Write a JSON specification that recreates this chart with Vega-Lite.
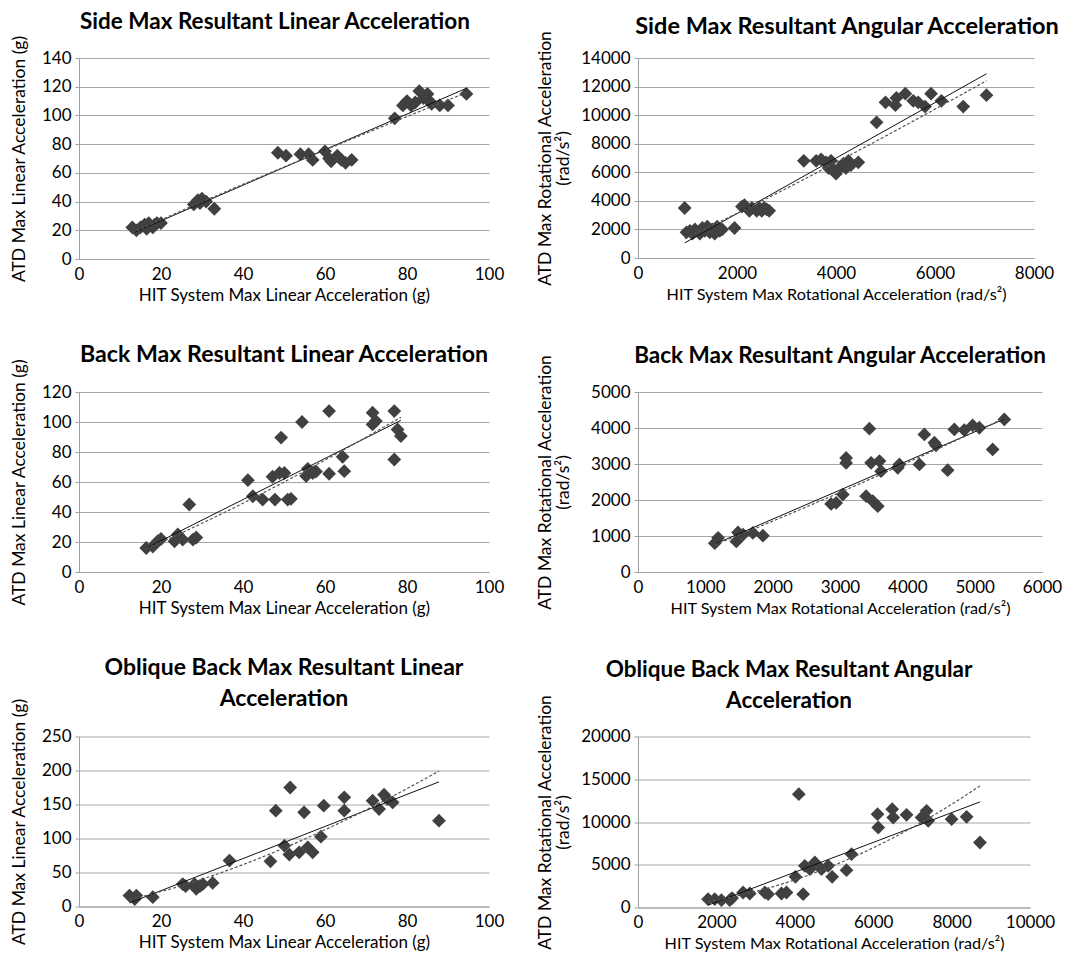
{
  "$schema": "https://vega.github.io/schema/vega-lite/v6.json",
  "padding": {"left": 9, "top": 11, "right": 0, "bottom": 0},
  "config": {
    "font": "Lato",
    "view": {"stroke": null},
    "axis": {"labelFont": "Lato", "labelFontSize": 17, "labelColor": "#000000", "titleFont": "Lato", "titleFontSize": 17, "titleFontWeight": "normal", "titleColor": "#000000", "titleLineHeight": 18, "domainColor": "#a0a0a0", "gridColor": "#a6a6a6", "tickColor": "#a0a0a0"},
    "axisX": {"grid": false, "ticks": false, "labelPadding": 7, "titlePadding": 5, "labelFlush": false},
    "axisY": {"grid": true, "tickSize": 4, "labelPadding": 4, "titleFontSize": 17.5},
    "title": {"font": "Lato", "fontSize": 22.5, "fontWeight": "bold", "color": "#000000", "anchor": "middle", "frame": "group", "lineHeight": 31}
  },
  "datasets": {
    "side_lin": [
      {"hit": 13, "atd": 22}, {"hit": 14, "atd": 20}, {"hit": 15, "atd": 22}, {"hit": 16, "atd": 24}, {"hit": 16.5, "atd": 21},
      {"hit": 17, "atd": 25}, {"hit": 18, "atd": 22}, {"hit": 18.5, "atd": 24}, {"hit": 19, "atd": 25}, {"hit": 20, "atd": 25},
      {"hit": 28, "atd": 38}, {"hit": 29, "atd": 41}, {"hit": 29.5, "atd": 39}, {"hit": 30, "atd": 42}, {"hit": 31, "atd": 40}, {"hit": 33, "atd": 35},
      {"hit": 48.5, "atd": 74}, {"hit": 50.5, "atd": 72}, {"hit": 54, "atd": 73}, {"hit": 56, "atd": 73}, {"hit": 57, "atd": 69}, {"hit": 60, "atd": 75},
      {"hit": 61, "atd": 70}, {"hit": 61.5, "atd": 68}, {"hit": 63, "atd": 72}, {"hit": 64, "atd": 69}, {"hit": 65, "atd": 67}, {"hit": 66.5, "atd": 69},
      {"hit": 77, "atd": 98}, {"hit": 79, "atd": 107}, {"hit": 80, "atd": 110}, {"hit": 81, "atd": 107}, {"hit": 82, "atd": 109}, {"hit": 83, "atd": 117},
      {"hit": 84, "atd": 112}, {"hit": 85, "atd": 115}, {"hit": 85.5, "atd": 110}, {"hit": 86, "atd": 108}, {"hit": 88, "atd": 107}, {"hit": 90, "atd": 107}, {"hit": 94.5, "atd": 115}
    ],
    "side_ang": [
      {"hit": 943, "atd": 3500}, {"hit": 980, "atd": 1800}, {"hit": 1050, "atd": 1900}, {"hit": 1100, "atd": 1700}, {"hit": 1150, "atd": 2000},
      {"hit": 1250, "atd": 1700}, {"hit": 1300, "atd": 2100}, {"hit": 1350, "atd": 1900}, {"hit": 1400, "atd": 2200}, {"hit": 1450, "atd": 1800},
      {"hit": 1500, "atd": 2000}, {"hit": 1550, "atd": 1700}, {"hit": 1600, "atd": 2200}, {"hit": 1650, "atd": 1900}, {"hit": 1700, "atd": 2000}, {"hit": 1950, "atd": 2100},
      {"hit": 2100, "atd": 3600}, {"hit": 2150, "atd": 3700}, {"hit": 2250, "atd": 3300}, {"hit": 2300, "atd": 3500}, {"hit": 2400, "atd": 3300},
      {"hit": 2450, "atd": 3500}, {"hit": 2500, "atd": 3300}, {"hit": 2550, "atd": 3500}, {"hit": 2600, "atd": 3400}, {"hit": 2650, "atd": 3300},
      {"hit": 3350, "atd": 6800}, {"hit": 3600, "atd": 6800}, {"hit": 3700, "atd": 6900}, {"hit": 3800, "atd": 6700}, {"hit": 3850, "atd": 6300},
      {"hit": 3900, "atd": 6800}, {"hit": 3950, "atd": 6200}, {"hit": 4000, "atd": 5900}, {"hit": 4100, "atd": 6400}, {"hit": 4150, "atd": 6600},
      {"hit": 4200, "atd": 6300}, {"hit": 4250, "atd": 6800}, {"hit": 4300, "atd": 6500}, {"hit": 4450, "atd": 6700},
      {"hit": 4820, "atd": 9500}, {"hit": 5000, "atd": 10900}, {"hit": 5200, "atd": 10700}, {"hit": 5220, "atd": 11200}, {"hit": 5400, "atd": 11500},
      {"hit": 5560, "atd": 11000}, {"hit": 5660, "atd": 10900}, {"hit": 5800, "atd": 10600}, {"hit": 5920, "atd": 11500}, {"hit": 6130, "atd": 11000},
      {"hit": 6570, "atd": 10600}, {"hit": 7040, "atd": 11400}
    ],
    "back_lin": [
      {"hit": 16.4, "atd": 16}, {"hit": 18, "atd": 17}, {"hit": 19.2, "atd": 20.5}, {"hit": 20, "atd": 22}, {"hit": 23.3, "atd": 20.5},
      {"hit": 24.1, "atd": 25}, {"hit": 25.3, "atd": 21.6}, {"hit": 26.9, "atd": 45}, {"hit": 27.8, "atd": 21.6}, {"hit": 28.6, "atd": 23},
      {"hit": 41.2, "atd": 61.2}, {"hit": 42.4, "atd": 50.5}, {"hit": 44.8, "atd": 48.3}, {"hit": 47.2, "atd": 63.5}, {"hit": 47.8, "atd": 48.3},
      {"hit": 48.9, "atd": 66}, {"hit": 49.3, "atd": 89.6}, {"hit": 50.1, "atd": 66}, {"hit": 50.9, "atd": 48.3}, {"hit": 51.7, "atd": 48.8},
      {"hit": 54.4, "atd": 100}, {"hit": 55.4, "atd": 64}, {"hit": 55.8, "atd": 68.8}, {"hit": 57, "atd": 66}, {"hit": 57.8, "atd": 67},
      {"hit": 61, "atd": 65.5}, {"hit": 61, "atd": 107.3}, {"hit": 64.3, "atd": 76.8}, {"hit": 64.7, "atd": 67.2}, {"hit": 71.6, "atd": 106.2},
      {"hit": 71.6, "atd": 98.4}, {"hit": 72.4, "atd": 100.6}, {"hit": 76.9, "atd": 75}, {"hit": 76.9, "atd": 107.3}, {"hit": 77.7, "atd": 95}, {"hit": 78.5, "atd": 90.6}
    ],
    "back_ang": [
      {"hit": 1140, "atd": 800}, {"hit": 1190, "atd": 950}, {"hit": 1460, "atd": 850}, {"hit": 1485, "atd": 1100}, {"hit": 1560, "atd": 1040},
      {"hit": 1706, "atd": 1085}, {"hit": 1855, "atd": 1010}, {"hit": 2868, "atd": 1890}, {"hit": 2943, "atd": 1920}, {"hit": 3042, "atd": 2150},
      {"hit": 3091, "atd": 3030}, {"hit": 3091, "atd": 3170}, {"hit": 3388, "atd": 2106}, {"hit": 3437, "atd": 3980}, {"hit": 3462, "atd": 3033},
      {"hit": 3487, "atd": 1967}, {"hit": 3561, "atd": 1828}, {"hit": 3586, "atd": 3080}, {"hit": 3610, "atd": 2800}, {"hit": 3858, "atd": 2894},
      {"hit": 3882, "atd": 2987}, {"hit": 4179, "atd": 2987}, {"hit": 4253, "atd": 3822}, {"hit": 4402, "atd": 3590}, {"hit": 4426, "atd": 3516},
      {"hit": 4599, "atd": 2829}, {"hit": 4698, "atd": 3961}, {"hit": 4846, "atd": 3943}, {"hit": 4970, "atd": 4072}, {"hit": 5069, "atd": 4007},
      {"hit": 5267, "atd": 3405}, {"hit": 5440, "atd": 4239}
    ],
    "obl_lin": [
      {"hit": 12.3, "atd": 16}, {"hit": 13.6, "atd": 11}, {"hit": 14, "atd": 16}, {"hit": 18, "atd": 13.7}, {"hit": 25.3, "atd": 33},
      {"hit": 26, "atd": 30}, {"hit": 28.2, "atd": 33}, {"hit": 28.6, "atd": 26}, {"hit": 29.5, "atd": 30}, {"hit": 30.2, "atd": 33}, {"hit": 32.6, "atd": 34.7},
      {"hit": 36.7, "atd": 67.5}, {"hit": 46.7, "atd": 66.5}, {"hit": 48, "atd": 140.9}, {"hit": 50.1, "atd": 89.5}, {"hit": 51.3, "atd": 76.3},
      {"hit": 51.5, "atd": 175}, {"hit": 53.7, "atd": 79.7}, {"hit": 54.9, "atd": 138.5}, {"hit": 55.8, "atd": 87}, {"hit": 57, "atd": 79.7},
      {"hit": 59, "atd": 102.7}, {"hit": 59.7, "atd": 148.2}, {"hit": 64.7, "atd": 160.5}, {"hit": 64.7, "atd": 140.9}, {"hit": 71.6, "atd": 155.6},
      {"hit": 73.2, "atd": 143.3}, {"hit": 74.4, "atd": 164.4}, {"hit": 75.2, "atd": 158}, {"hit": 76.5, "atd": 153.1}, {"hit": 87.8, "atd": 126.2}
    ],
    "obl_ang": [
      {"hit": 1787, "atd": 975}, {"hit": 1957, "atd": 975}, {"hit": 2128, "atd": 858}, {"hit": 2340, "atd": 858}, {"hit": 2400, "atd": 1100},
      {"hit": 2681, "atd": 1754}, {"hit": 2851, "atd": 1637}, {"hit": 3234, "atd": 1754}, {"hit": 3319, "atd": 1559}, {"hit": 3660, "atd": 1637},
      {"hit": 3787, "atd": 1754}, {"hit": 4017, "atd": 3587}, {"hit": 4102, "atd": 13255}, {"hit": 4213, "atd": 1559}, {"hit": 4255, "atd": 4873},
      {"hit": 4383, "atd": 4483}, {"hit": 4511, "atd": 5263}, {"hit": 4681, "atd": 4483}, {"hit": 4851, "atd": 4873}, {"hit": 4953, "atd": 3587},
      {"hit": 5319, "atd": 4366}, {"hit": 5447, "atd": 6238}, {"hit": 6111, "atd": 10916}, {"hit": 6128, "atd": 9357}, {"hit": 6485, "atd": 11501},
      {"hit": 6511, "atd": 10526}, {"hit": 6851, "atd": 10838}, {"hit": 7234, "atd": 10526}, {"hit": 7362, "atd": 11306}, {"hit": 7404, "atd": 10136},
      {"hit": 8000, "atd": 10331}, {"hit": 8383, "atd": 10604}, {"hit": 8723, "atd": 7602}
    ]
  },
  "vconcat": [
    {
      "hconcat": [
        {
          "width": 410, "height": 201,
          "title": {"text": "Side Max Resultant Linear Acceleration", "dx": -9, "offset": 1},
          "data": {"name": "side_lin"},
          "encoding": {
            "x": {"field": "hit", "type": "quantitative", "scale": {"domain": [0, 100], "nice": false}, "axis": {"title": "HIT System Max Linear Acceleration (g)", "values": [0, 20, 40, 60, 80, 100]}},
            "y": {"field": "atd", "type": "quantitative", "scale": {"domain": [0, 140], "nice": false}, "axis": {"title": "ATD Max Linear Acceleration (g)", "values": [0, 20, 40, 60, 80, 100, 120, 140], "minExtent": 40, "maxExtent": 40, "titlePadding": 11}}
          },
          "layer": [
            {"mark": {"type": "point", "shape": "diamond", "filled": true, "size": 190, "color": "#404040", "opacity": 1}},
            {"transform": [{"regression": "atd", "on": "hit"}], "mark": {"type": "line", "color": "#111111", "strokeWidth": 1}},
            {"transform": [{"regression": "atd", "on": "hit", "method": "pow"}], "mark": {"type": "line", "color": "#555555", "strokeWidth": 1.2, "strokeDash": [3, 2]}}
          ]
        },
        {
          "width": 396, "height": 200,
          "title": {"text": "Side Max Resultant Angular Acceleration", "dx": 11, "offset": -8, "fontSize": 23.5},
          "data": {"name": "side_ang"},
          "encoding": {
            "x": {"field": "hit", "type": "quantitative", "scale": {"domain": [0, 8000], "nice": false}, "axis": {"title": "HIT System Max Rotational Acceleration (rad/s²)", "titleFontSize": 16.2, "values": [0, 2000, 4000, 6000, 8000], "format": "d"}},
            "y": {"field": "atd", "type": "quantitative", "scale": {"domain": [0, 14000], "nice": false}, "axis": {"title": ["ATD Max Rotational Acceleration", "(rad/s²)"], "values": [0, 2000, 4000, 6000, 8000, 10000, 12000, 14000], "format": "d", "minExtent": 58, "maxExtent": 58, "titlePadding": 8}}
          },
          "layer": [
            {"mark": {"type": "point", "shape": "diamond", "filled": true, "size": 190, "color": "#404040", "opacity": 1}},
            {"transform": [{"regression": "atd", "on": "hit"}], "mark": {"type": "line", "color": "#111111", "strokeWidth": 1}},
            {"transform": [{"regression": "atd", "on": "hit", "method": "pow"}], "mark": {"type": "line", "color": "#555555", "strokeWidth": 1.2, "strokeDash": [3, 2]}}
          ]
        }
      ],
      "spacing": 31
    },
    {
      "vconcat": [
        {
          "hconcat": [
            {
              "width": 410, "height": 180,
              "title": {"text": "Back Max Resultant Linear Acceleration", "offset": -9, "fontSize": 23.2},
              "data": {"name": "back_lin"},
              "encoding": {
                "x": {"field": "hit", "type": "quantitative", "scale": {"domain": [0, 100], "nice": false}, "axis": {"title": "HIT System Max Linear Acceleration (g)", "values": [0, 20, 40, 60, 80, 100]}},
                "y": {"field": "atd", "type": "quantitative", "scale": {"domain": [0, 120], "nice": false}, "axis": {"title": "ATD Max Linear Acceleration (g)", "values": [0, 20, 40, 60, 80, 100, 120], "minExtent": 40, "maxExtent": 40, "titlePadding": 11}}
              },
              "layer": [
                {"mark": {"type": "point", "shape": "diamond", "filled": true, "size": 190, "color": "#404040", "opacity": 1}},
                {"transform": [{"regression": "atd", "on": "hit"}], "mark": {"type": "line", "color": "#111111", "strokeWidth": 1}},
                {"transform": [{"regression": "atd", "on": "hit", "method": "pow"}], "mark": {"type": "line", "color": "#555555", "strokeWidth": 1.2, "strokeDash": [3, 2]}}
              ]
            },
            {
              "width": 404, "height": 180,
              "title": {"text": "Back Max Resultant Angular Acceleration", "offset": -13},
              "data": {"name": "back_ang"},
              "encoding": {
                "x": {"field": "hit", "type": "quantitative", "scale": {"domain": [0, 6000], "nice": false}, "axis": {"title": "HIT System Max Rotational Acceleration (rad/s²)", "titleFontSize": 16.2, "values": [0, 1000, 2000, 3000, 4000, 5000, 6000], "format": "d"}},
                "y": {"field": "atd", "type": "quantitative", "scale": {"domain": [0, 5000], "nice": false}, "axis": {"title": ["ATD Max Rotational Acceleration", "(rad/s²)"], "values": [0, 1000, 2000, 3000, 4000, 5000], "format": "d", "minExtent": 58, "maxExtent": 58, "titlePadding": 8}}
              },
              "layer": [
                {"mark": {"type": "point", "shape": "diamond", "filled": true, "size": 190, "color": "#404040", "opacity": 1}},
                {"transform": [{"regression": "atd", "on": "hit"}], "mark": {"type": "line", "color": "#111111", "strokeWidth": 1}},
                {"transform": [{"regression": "atd", "on": "hit", "method": "pow"}], "mark": {"type": "line", "color": "#555555", "strokeWidth": 1.2, "strokeDash": [3, 2]}}
              ]
            }
          ],
          "spacing": 31
        },
        {
          "hconcat": [
            {
              "width": 410, "height": 170,
              "title": {"text": ["Oblique Back Max Resultant Linear", "Acceleration"], "offset": -13, "fontSize": 23},
              "data": {"name": "obl_lin"},
              "encoding": {
                "x": {"field": "hit", "type": "quantitative", "scale": {"domain": [0, 100], "nice": false}, "axis": {"title": "HIT System Max Linear Acceleration (g)", "values": [0, 20, 40, 60, 80, 100]}},
                "y": {"field": "atd", "type": "quantitative", "scale": {"domain": [0, 250], "nice": false}, "axis": {"title": "ATD Max Linear Acceleration (g)", "values": [0, 50, 100, 150, 200, 250], "minExtent": 40, "maxExtent": 40, "titlePadding": 11}}
              },
              "layer": [
                {"mark": {"type": "point", "shape": "diamond", "filled": true, "size": 190, "color": "#404040", "opacity": 1}},
                {"transform": [{"regression": "atd", "on": "hit"}], "mark": {"type": "line", "color": "#111111", "strokeWidth": 1}},
                {"transform": [{"regression": "atd", "on": "hit", "method": "pow"}], "mark": {"type": "line", "color": "#555555", "strokeWidth": 1.2, "strokeDash": [3, 2]}}
              ]
            },
            {
              "width": 392, "height": 171,
              "title": {"text": ["Oblique Back Max Resultant Angular", "Acceleration"], "dx": -45, "offset": -18},
              "data": {"name": "obl_ang"},
              "encoding": {
                "x": {"field": "hit", "type": "quantitative", "scale": {"domain": [0, 10000], "nice": false}, "axis": {"title": "HIT System Max Rotational Acceleration (rad/s²)", "titleFontSize": 16.2, "values": [0, 2000, 4000, 6000, 8000, 10000], "format": "d"}},
                "y": {"field": "atd", "type": "quantitative", "scale": {"domain": [0, 20000], "nice": false}, "axis": {"title": ["ATD Max Rotational Acceleration", "(rad/s²)"], "values": [0, 5000, 10000, 15000, 20000], "format": "d", "minExtent": 58, "maxExtent": 58, "titlePadding": 8}}
              },
              "layer": [
                {"mark": {"type": "point", "shape": "diamond", "filled": true, "size": 190, "color": "#404040", "opacity": 1}},
                {"transform": [{"regression": "atd", "on": "hit"}], "mark": {"type": "line", "color": "#111111", "strokeWidth": 1}},
                {"transform": [{"regression": "atd", "on": "hit", "method": "pow"}], "mark": {"type": "line", "color": "#555555", "strokeWidth": 1.2, "strokeDash": [3, 2]}}
              ]
            }
          ],
          "spacing": 31
        }
      ],
      "spacing": 39.5
    }
  ],
  "spacing": 40
}
